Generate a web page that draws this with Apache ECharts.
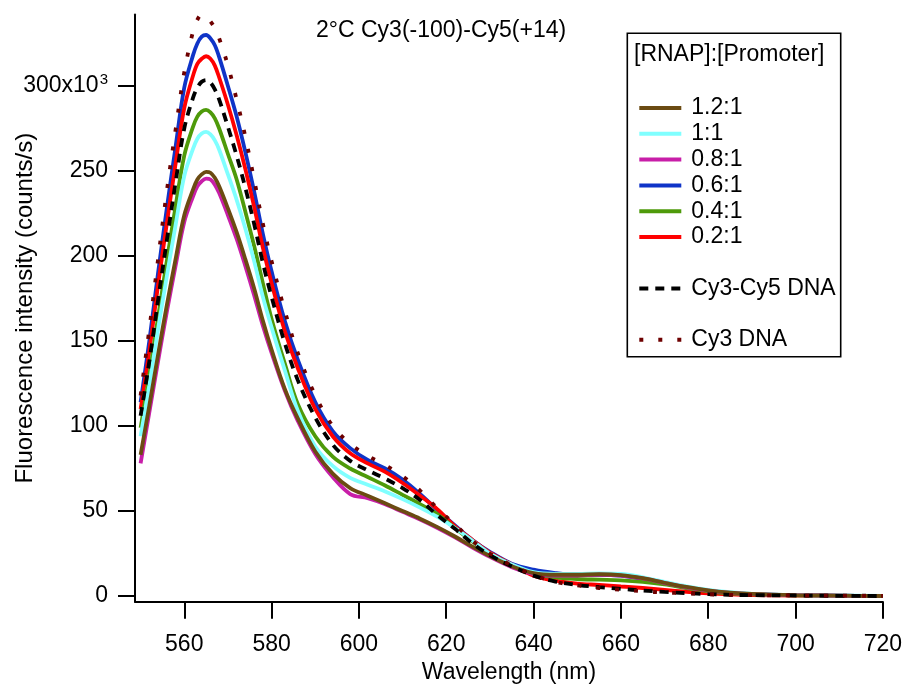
<!DOCTYPE html>
<html>
<head>
<meta charset="utf-8">
<script src="https://cdn.jsdelivr.net/npm/echarts@6/dist/echarts.min.js"></script>
<style>
  html, body { margin: 0; padding: 0; background: #ffffff; }
  #chart { width: 905px; height: 688px; }
</style>
</head>
<body>
<div id="chart"></div>
<script>
// Wavelength grid (nm)
const wavelengths = [550, 552, 554, 556, 558, 560, 562, 563, 564, 565, 566, 567, 568, 570, 572, 574, 576, 578, 580,
  583, 586, 590, 594, 598, 602, 606, 610, 614, 618, 622, 626, 630, 635, 640, 645, 650, 655, 660, 665, 670, 675, 680, 685, 690, 700, 710, 720];

// Fluorescence intensity (x10^3 counts/s)
const ratio12 = [83, 112, 142, 171, 198, 224, 239, 245, 248, 249.5, 249, 246, 241, 228, 214, 198, 181, 162, 145,
  122, 104.5, 85, 72, 63.5, 59, 54.5, 50, 45.5, 40.5, 35, 29, 23.5, 17.5, 13.5, 12.5, 12.5, 12.8, 12.3, 10.5, 7.8, 5.3, 3.3, 2, 1.2, 0.5, 0.2, 0];
const ratio10 = [94, 124, 157, 188, 218, 247, 263, 269, 272, 273, 271.5, 268, 262.5, 248, 233, 216, 197, 176, 158,
  133, 109, 88, 76.5, 69.5, 65.5, 61.5, 57, 52, 46.5, 40, 32.5, 25, 18.5, 14, 13, 13, 13.3, 13, 11, 8.3, 5.7, 3.6, 2.2, 1.3, 0.6, 0.3, 0.1];
const ratio08 = [78, 108, 138, 167, 194, 220, 235, 241, 244, 245.5, 245, 242, 237, 224, 210, 194, 177, 159, 143,
  121, 103, 83.5, 70, 60, 57.5, 54, 49.5, 45, 40, 34.5, 28.5, 23, 17, 13, 12, 12, 12.5, 12, 10.3, 7.6, 5.1, 3.2, 1.9, 1.1, 0.5, 0.2, 0];
const ratio06 = [114, 150, 190, 228, 264, 299, 318, 325, 329, 330, 328, 324, 317, 300, 282, 261, 238, 213, 191,
  162, 139, 114, 97, 87, 80, 75, 68.5, 60, 50.5, 41.5, 33, 26, 19, 15.5, 13.5, 12.5, 12.5, 12, 10, 7.5, 5, 3.2, 1.9, 1.1, 0.5, 0.2, 0];
const ratio04 = [99, 130, 164, 197, 229, 259, 276, 282, 285, 286, 284.5, 281, 275, 260, 245, 226, 206, 184, 163,
  137, 113, 94, 82, 75, 70, 65, 59.5, 54, 48, 40, 32, 24.5, 18, 13, 11, 10, 9.6, 9.2, 8.3, 6.8, 4.6, 2.8, 1.6, 1, 0.4, 0.2, 0];
const ratio02 = [110, 144, 183, 219, 254, 287, 306, 313, 316, 317.5, 316, 312, 305, 289, 271, 251, 229, 205, 184,
  156, 134, 110, 94, 84, 78, 73, 66.5, 59, 51, 41, 33, 25.5, 18.5, 12, 9, 7.3, 6.5, 5.6, 4.7, 3.6, 2.5, 1.6, 1, 0.6, 0.3, 0.1, 0];
const cy3cy5DNA = [106, 138, 174, 209, 243, 275, 293, 299, 302.5, 303.5, 302, 298, 292, 276, 259, 240, 219, 196, 176,
  149, 127, 105, 89, 79.5, 74, 69, 63.5, 56.5, 47.5, 39.5, 31, 24, 17.5, 12, 8.5, 6.5, 5.2, 4.2, 3.2, 2.4, 1.7, 1.1, 0.7, 0.5, 0.3, 0.1, 0];
const cy3DNA = [118, 157, 198, 238, 274, 308, 332, 339, 342, 341, 338, 334, 328, 312, 292, 270, 245, 219, 197,
  168, 143, 118, 100, 89.5, 82.5, 77, 70.5, 62, 51.5, 42, 32.5, 25, 18, 12.5, 8.3, 6.3, 4.7, 3.7, 2.8, 2, 1.6, 1, 0.7, 0.5, 0.3, 0.2, 0.1];

const legendRatios = ['1.2:1', '1:1', '0.8:1', '0.6:1', '0.4:1', '0.2:1'];
const legendDNA1 = ['Cy3-Cy5 DNA'];
const legendDNA2 = ['Cy3 DNA'];

const xTicks = [560, 580, 600, 620, 640, 660, 680, 700, 720];
const yTicks = [0, 50, 100, 150, 200, 250, 300];

const FONT = '"Liberation Sans", Arial, Helvetica, sans-serif';

function pairs(vals) { return wavelengths.map(function (w, i) { return [w, vals[i]]; }); }

function lineSeries(name, vals, color, type) {
  return {
    name: name,
    type: 'line',
    data: pairs(vals),
    showSymbol: false,
    symbol: 'none',
    smooth: 0.35,
    clip: false,
    silent: true,
    lineStyle: { color: color, width: 3.8, type: type || 'solid', cap: 'butt' },
    itemStyle: { color: color },
    emphasis: { disabled: true }
  };
}

const chart = echarts.init(document.getElementById('chart'), null, { renderer: 'canvas' });

const legendCommon = {
  orient: 'vertical',
  left: 637.3,
  padding: 0,
  itemWidth: 42,
  itemHeight: 14,
  itemGap: 0,
  selectedMode: false,
  itemStyle: { opacity: 0, borderWidth: 0 },
  lineStyle: { width: 4 },
  textStyle: { fontFamily: FONT, fontSize: 23, color: '#000', lineHeight: 25.8, padding: [0, 0, 0, 5] }
};

const option = {
  animation: false,
  backgroundColor: '#ffffff',
  grid: { left: 135, right: 22.1, top: 14.6, bottom: 86.3, outerBoundsMode: 'none', containLabel: false },
  xAxis: {
    type: 'value',
    min: 548.72,
    max: 720,
    name: 'Wavelength (nm)',
    nameLocation: 'middle',
    nameGap: 59.5,
    nameMoveOverlap: false,
    nameTextStyle: { fontFamily: FONT, fontSize: 23, color: '#000' },
    axisLine: { show: true, onZero: false, lineStyle: { color: '#000', width: 2 } },
    axisTick: { show: true, inside: false, length: 17, customValues: xTicks, lineStyle: { color: '#000', width: 2 } },
    axisLabel: { show: true, customValues: xTicks, margin: 31, fontFamily: FONT, fontSize: 23, color: '#000' },
    splitLine: { show: false }
  },
  yAxis: {
    type: 'value',
    min: -3.35,
    max: 342,
    name: 'Fluorescence intensity (counts/s)',
    nameLocation: 'middle',
    nameGap: 98,
    nameMoveOverlap: false,
    nameTextStyle: { fontFamily: FONT, fontSize: 24, color: '#000' },
    axisLine: { show: true, onZero: false, lineStyle: { color: '#000', width: 2 } },
    axisTick: { show: true, inside: false, length: 17, customValues: yTicks, lineStyle: { color: '#000', width: 2 } },
    axisLabel: {
      show: true, customValues: yTicks, margin: 27, fontFamily: FONT, fontSize: 23, color: '#000',
      formatter: function (v) { return v === 300 ? '{a|300x10}{s|3}' : String(v); },
      rich: {
        a: { fontFamily: FONT, fontSize: 23, color: '#000' },
        s: { fontFamily: FONT, fontSize: 15, color: '#000', lineHeight: 15, padding: [0, 0, 12, 1] }
      }
    },
    splitLine: { show: false }
  },
  legend: [
    Object.assign({}, legendCommon, { top: 95.1, data: legendRatios }),
    Object.assign({}, legendCommon, { top: 275.5, data: legendDNA1 }),
    Object.assign({}, legendCommon, { top: 326.9, data: legendDNA2 })
  ],
  graphic: [
    { type: 'rect', shape: { x: 627.3, y: 33.3, width: 213.4, height: 323.4 },
      style: { fill: 'none', stroke: '#000', lineWidth: 1.6 }, silent: true },
    { type: 'text', style: { x: 634, y: 55, text: '[RNAP]:[Promoter]', font: '23px ' + FONT, fill: '#000', verticalAlign: 'middle' }, silent: true },
    { type: 'text', style: { x: 316, y: 31, text: '2°C Cy3(-100)-Cy5(+14)', font: '23px ' + FONT, fill: '#000', verticalAlign: 'middle' }, silent: true }
  ],
  series: [
    lineSeries('0.6:1', ratio06, '#0F34C8'),
    lineSeries('0.2:1', ratio02, '#FF0000'),
    lineSeries('0.4:1', ratio04, '#4E9A0A'),
    lineSeries('1:1', ratio10, '#80FFFF'),
    lineSeries('0.8:1', ratio08, '#C81EA8'),
    lineSeries('1.2:1', ratio12, '#6B4B12'),
    lineSeries('Cy3-Cy5 DNA', cy3cy5DNA, '#000000', [9, 7]),
    lineSeries('Cy3 DNA', cy3DNA, '#6E0000', [4, 15])
  ]
};

chart.setOption(option);
</script>
</body>
</html>
